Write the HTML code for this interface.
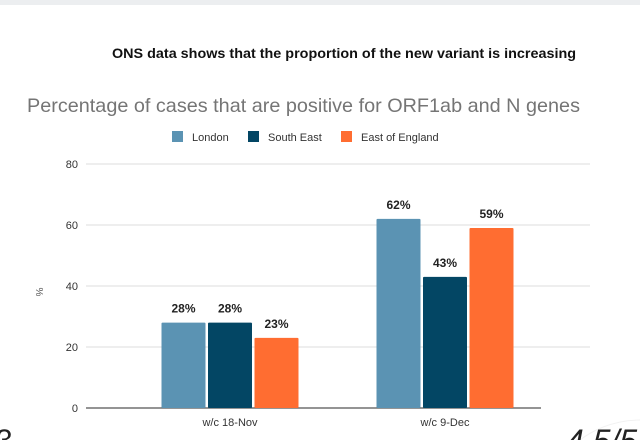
<!DOCTYPE html>
<html style="overflow:hidden"><head><meta charset="utf-8"><style>
html,body{margin:0;width:640px;height:440px;overflow:hidden}
body{background:#fff;font-family:"Liberation Sans",Arial,sans-serif;position:relative}
</style></head><body>
<div style="position:absolute;left:0;top:0;width:640px;height:5px;background:#eceef0"></div>
<svg id="chart" width="640" height="440" style="position:absolute;left:0;top:0;overflow:hidden" font-family="Liberation Sans, Arial, sans-serif">
<text x="112" y="58" font-size="13.5" font-weight="bold" fill="#111" textLength="464" lengthAdjust="spacingAndGlyphs">ONS data shows that the proportion of the new variant is increasing</text>
<text x="27" y="112" font-size="19.5" fill="#757575" textLength="553" lengthAdjust="spacingAndGlyphs">Percentage of cases that are positive for ORF1ab and N genes</text>
<g id="legend"></g>
<g id="grid"></g>
<g id="bars"></g>
<text transform="translate(36,292) rotate(90)" text-anchor="middle" font-size="10" fill="#555">%</text>
<circle cx="640" cy="520" r="100" fill="#fff" stroke="#f2f2f2"/>
<text x="-4" y="450" font-size="30" fill="#222">3</text>
<text x="566" y="452" font-size="32" font-style="italic" fill="#222">4.5/5</text>
</svg>
<script>
const categories=["w/c 18-Nov","w/c 9-Dec"];
const seriesNames=["London","South East","East of England"];
const london=[28,62];
const southEast=[28,43];
const eastEngland=[23,59];
const yTicks=[0,20,40,60,80];
const colors=["#5b93b3","#034664","#ff6d31"];
const series=[london,southEast,eastEngland];
const ns="http://www.w3.org/2000/svg";
function y(v){return 408-v*(244/80);}
function bandCenter(i){return 230+i*215;}
const grid=document.getElementById('grid');
yTicks.forEach(t=>{
 const l=document.createElementNS(ns,'line');
 
 
 l.setAttribute('x1',86);l.setAttribute('x2',t===0?541:590);
 l.setAttribute('y1',y(t));l.setAttribute('y2',y(t));
 l.setAttribute('stroke',t===0?'#555':'#ddd');l.setAttribute('stroke-width',t===0?1.2:1);
 grid.appendChild(l);
 const tx=document.createElementNS(ns,'text');
 
 
 tx.setAttribute('x',78);tx.setAttribute('y',y(t)+4);tx.setAttribute('text-anchor','end');
 tx.setAttribute('font-size','11');tx.setAttribute('fill','#333');tx.textContent=t;
 grid.appendChild(tx);
});
const bars=document.getElementById('bars');
const bw=44,gap=2.5;
categories.forEach((c,i)=>{
 const cx=bandCenter(i);
 series.forEach((s,k)=>{
  const x=cx+(k-1)*(bw+gap)-bw/2;
  const r=document.createElementNS(ns,'rect');
  
  
  r.setAttribute('x',x);r.setAttribute('y',y(s[i]));r.setAttribute('width',bw);
  r.setAttribute('height',408-y(s[i]));r.setAttribute('fill',colors[k]);r.setAttribute('rx',1);
  bars.appendChild(r);
  const t=document.createElementNS(ns,'text');
  
  
  t.setAttribute('x',x+bw/2);t.setAttribute('y',y(s[i])-10);t.setAttribute('text-anchor','middle');
  t.setAttribute('font-size','12');t.setAttribute('font-weight','bold');t.setAttribute('fill','#222');
  t.textContent=s[i]+'%';bars.appendChild(t);
 });
 const lb=document.createElementNS(ns,'text');
 
 
 lb.setAttribute('x',cx);lb.setAttribute('y',426);lb.setAttribute('text-anchor','middle');
 lb.setAttribute('font-size','11');lb.setAttribute('fill','#333');lb.textContent=c;
 bars.appendChild(lb);
});
const legend=document.getElementById('legend');
const lx=[172,248,341];
seriesNames.forEach((n,k)=>{
 const r=document.createElementNS(ns,'rect');
 
 
 r.setAttribute('x',lx[k]);r.setAttribute('y',131);r.setAttribute('width',11);r.setAttribute('height',11);
 r.setAttribute('fill',colors[k]);legend.appendChild(r);
 const t=document.createElementNS(ns,'text');
 
 
 t.setAttribute('x',lx[k]+20);t.setAttribute('y',141);t.setAttribute('font-size','11');t.setAttribute('fill','#333');
 t.textContent=n;legend.appendChild(t);
});
</script>
</body></html>
